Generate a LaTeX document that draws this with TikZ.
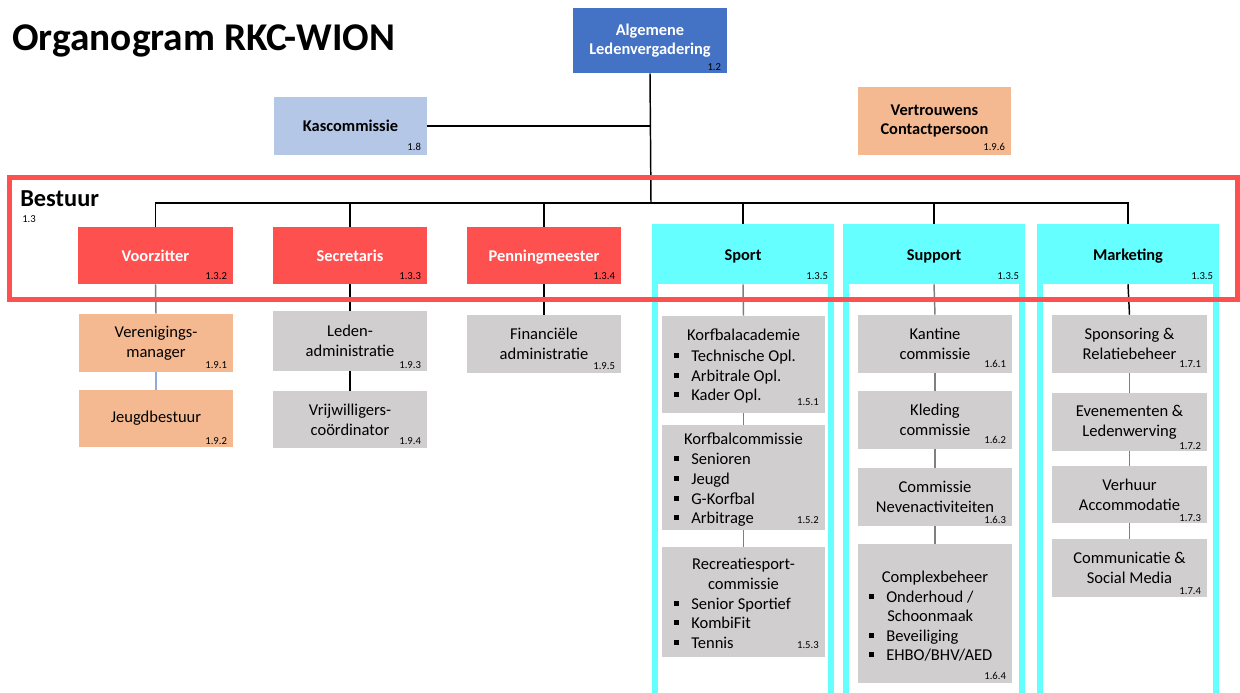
\documentclass[tikz,border=0pt]{standalone}
\usepackage{fontspec}
\setmainfont{Carlito}
\definecolor{alvblue}{HTML}{4472C4}
\definecolor{kasblue}{HTML}{B4C7E7}
\definecolor{orangec}{HTML}{F4B990}
\definecolor{redc}{HTML}{FF5050}
\definecolor{cyanc}{HTML}{66FFFF}
\definecolor{greyc}{HTML}{D0CECE}
\definecolor{linec}{HTML}{7F7F7F}
\definecolor{bluelinec}{HTML}{8FAADC}
\newcommand\bul{\makebox[12.75pt][l]{\rule[2.4pt]{3.6pt}{3.6pt}}}
\newcommand\bxx[7]{\node[#2, minimum width={(#5-#3)*0.75pt}, minimum height={(#6-#4)*0.75pt}] (#1) at ({(#3+#5)/2},{(#4+#6)/2}) {#7};}
\newcommand\nmb[3][5]{\node[numsty, anchor=base east, xshift=-4.5pt, yshift={#1*0.75pt}] (#2n) at (#2.south east) {#3};}
\newcommand\itm[5]{\node[txt, anchor=base west] (#1) at (#2,#3) {#4#5};}
\tikzset{
  box/.style={rectangle, inner sep=0pt, align=center, font=\fontsize{12.4}{15}\selectfont},
  bold/.style={rectangle, inner sep=0pt, align=center, font=\bfseries\fontsize{12.3}{14.25}\selectfont},
  redbox/.style={bold, fill=redc, text=white, text height=9.3pt, text depth=0pt},
  cyanbox/.style={bold, fill=cyanc, text height=9.3pt, text depth=0pt},
  alvbox/.style={bold, fill=alvblue, text=white},
  kasbox/.style={bold, fill=kasblue},
  vcpbox/.style={bold, fill=orangec},
  orbox/.style={box, fill=orangec},
  grbox/.style={box, fill=greyc},
  numsty/.style={inner sep=0pt, text=black, font=\fontsize{8}{9}\selectfont},
  txt/.style={inner sep=0pt, font=\fontsize{12.4}{15}\selectfont},
  conn/.style={draw=black, line width=1.1pt},
  gconn/.style={draw=linec, line width=1.1pt},
  bconn/.style={draw=bluelinec, line width=1.1pt},
  frame/.style={rectangle, draw=redc, line width=3.75pt, inner sep=0pt},
}
\begin{document}
\begin{tikzpicture}[x=0.75pt,y=-0.75pt]
\useasboundingbox (0,0) rectangle (1240,693);

% title
\node[anchor=base west, inner sep=0pt, font=\bfseries\fontsize{29.5}{31}\selectfont] (title) at (12,50) {Organogram RKC-WION};

% cyan column strips
\fill[cyanc] (652,284) rectangle (658,693);
\fill[cyanc] (828,284) rectangle (834,693);
\fill[cyanc] (843,284) rectangle (849,693);
\fill[cyanc] (1019,284) rectangle (1025,693);
\fill[cyanc] (1037,284) rectangle (1043,693);
\fill[cyanc] (1213,284) rectangle (1219,693);

% top boxes
\bxx{alv}{alvbox}{573}{8}{727}{73}{Algemene\\Ledenvergadering}
\bxx{kas}{kasbox}{274}{97}{427}{155}{Kascommissie}
\bxx{vcp}{vcpbox}{858}{87}{1011}{155}{Vertrouwens\\Contactpersoon}

% bestuur boxes
\bxx{vz}{redbox}{78}{227}{233}{284}{Voorzitter}
\bxx{sec}{redbox}{273}{227}{427}{284}{Secretaris}
\bxx{pen}{redbox}{467}{227}{621}{284}{Penningmeester}
\bxx{sp}{cyanbox}{652}{224}{834}{284}{Sport}
\bxx{su}{cyanbox}{843}{224}{1025}{284}{Support}
\bxx{mk}{cyanbox}{1037}{224}{1219}{284}{Marketing}

% lower boxes
\bxx{vm}{orbox}{79}{314}{233}{372}{Verenigings-\\manager}
\bxx{jb}{orbox}{79}{390}{233}{447}{Jeugdbestuur}
\bxx{la}{grbox}{273}{311}{427}{371}{Leden-\\administratie}
\bxx{vc}{grbox}{273}{391}{427}{448}{Vrijwilligers-\\coördinator}
\bxx{fa}{grbox}{467}{315}{621}{373}{Financiële\\administratie}

\bxx{ka}{grbox}{662}{316}{825}{413}{}
\bxx{kc}{grbox}{662}{425}{825}{530}{}
\bxx{rc}{grbox}{662}{547}{825}{657}{}

\bxx{kant}{grbox}{858}{315}{1012}{373}{Kantine\\commissie}
\bxx{kle}{grbox}{858}{391}{1012}{449}{Kleding\\commissie}
\bxx{nev}{grbox}{858}{468}{1012}{526}{Commissie\\Nevenactiviteiten}
\bxx{cb}{grbox}{858}{544}{1012}{683}{}

\bxx{spo}{grbox}{1052}{315}{1207}{373}{Sponsoring \&\\Relatiebeheer}
\bxx{eve}{grbox}{1052}{393}{1207}{451}{Evenementen \&\\Ledenwerving}
\bxx{ver}{grbox}{1052}{466}{1207}{523}{Verhuur\\Accommodatie}
\bxx{com}{grbox}{1052}{539}{1207}{597}{Communicatie \&\\Social Media}

% numbers
\nmb[3]{alv}{1.2}
\nmb{kas}{1.8}
\nmb{vcp}{1.9.6}
\nmb{vz}{1.3.2}
\nmb{sec}{1.3.3}
\nmb{pen}{1.3.4}
\nmb{sp}{1.3.5}
\nmb{su}{1.3.5}
\nmb{mk}{1.3.5}
\nmb[4]{vm}{1.9.1}
\nmb[3]{jb}{1.9.2}
\nmb[2.5]{la}{1.9.3}
\nmb[4]{vc}{1.9.4}
\nmb[3.5]{fa}{1.9.5}
\nmb[6]{kant}{1.6.1}
\nmb[6]{kle}{1.6.2}
\nmb[2.5]{nev}{1.6.3}
\nmb[4]{cb}{1.6.4}
\nmb[6]{spo}{1.7.1}
\nmb[2]{eve}{1.7.2}
\nmb[1.5]{ver}{1.7.3}
\nmb[3]{com}{1.7.4}
\node[numsty, anchor=base east] (kan) at (819,405) {1.5.1};
\node[numsty, anchor=base east] (kcn) at (819,523) {1.5.2};
\node[numsty, anchor=base east] (rcn) at (819,648) {1.5.3};

% list contents
\node[txt, anchor=base] (ka-t) at (743.5,340) {Korfbalacademie};
\itm{ka1}{674}{361}{\bul}{Technische Opl.}
\itm{ka2}{674}{381}{\bul}{Arbitrale Opl.}
\itm{ka3}{674}{400}{\bul}{Kader Opl.}
\node[txt, anchor=base] (kc-t) at (743.5,444) {Korfbalcommissie};
\itm{kc1}{674}{464}{\bul}{Senioren}
\itm{kc2}{674}{484}{\bul}{Jeugd}
\itm{kc3}{674}{504}{\bul}{G-Korfbal}
\itm{kc4}{674}{523}{\bul}{Arbitrage}
\node[txt, anchor=base] (rc-t1) at (743.5,569) {Recreatiesport-};
\node[txt, anchor=base] (rc-t2) at (743.5,589) {commissie};
\itm{rc1}{674}{609}{\bul}{Senior Sportief}
\itm{rc2}{674}{628}{\bul}{KombiFit}
\itm{rc3}{674}{648}{\bul}{Tennis}
\node[txt, anchor=base] (cb-t) at (935,582) {Complexbeheer};
\itm{cb1}{869}{602}{\bul}{Onderhoud /}
\itm{cb1b}{887}{621}{}{Schoonmaak}
\itm{cb2}{869}{641}{\bul}{Beveiliging}
\itm{cb3}{869}{660}{\bul}{EHBO/BHV/AED}

% connectors
\coordinate (bus) at (651,203);
\draw[conn] (alv.south) -- (bus);
\draw[conn] (kas.east) -- (kas.east -| alv.south);
\foreach \n in {vz,sec,pen,sp,su,mk} \draw[conn] (\n.north) |- (bus);
\draw[gconn] (vz.south) -- (vm.north);
\draw[bconn] (vm.south) -- (jb.north);
\draw[conn] (sec.south) -- (la.north);
\draw[conn] (la.south) -- (vc.north);
\draw[conn] (pen.south) -- (fa.north);
\draw[gconn] (sp.south) -- (ka.north);
\draw[gconn] (ka.south) -- (kc.north);
\draw[gconn] (kc.south) -- (rc.north);
\draw[gconn] (su.south) -- (kant.north);
\draw[gconn] (kant.south) -- (kle.north);
\draw[gconn] (kle.south) -- (nev.north);
\draw[gconn] (nev.south) -- (cb.north);
\draw[conn] (mk.south) -- (spo.north);
\draw[gconn] (spo.south) -- (eve.north);
\draw[gconn] (eve.south) -- (ver.north);
\draw[gconn] (ver.south) -- (com.north);

% bestuur frame
\bxx{bestuur}{frame}{9}{177.5}{1237}{299.5}{}
\node[anchor=base west, inner sep=0pt, font=\bfseries\fontsize{18.3}{20}\selectfont] (bestuurlbl) at (20,206) {Bestuur};
\node[numsty, anchor=base west] (bestuurnr) at (22,222) {1.3};
\end{tikzpicture}
\end{document}
